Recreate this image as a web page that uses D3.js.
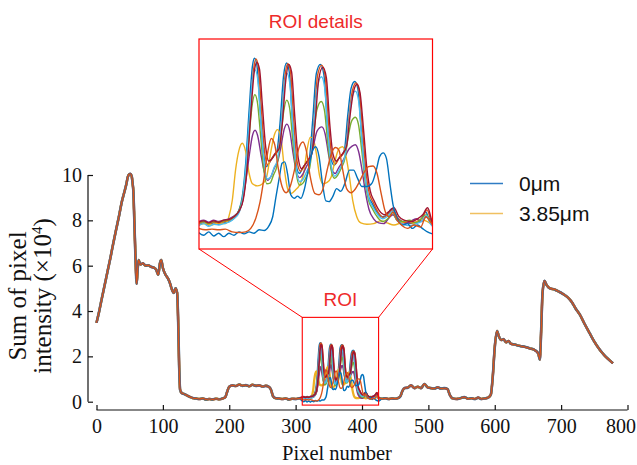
<!DOCTYPE html>
<html>
<head>
<meta charset="utf-8">
<script src="https://cdn.jsdelivr.net/npm/d3@7"></script>
<style>
  body { margin: 0; background: #fff; }
  .tick-label { font-family: "Liberation Serif", "Times New Roman", serif; font-size: 20px; fill: #111; }
  .axis-title { font-family: "Liberation Serif", "Times New Roman", serif; fill: #111; }
  .legend-text { font-family: "Liberation Sans", Arial, sans-serif; font-size: 21px; fill: #111; }
  .roi-text { font-family: "Liberation Sans", Arial, sans-serif; fill: #ee2a2a; }
</style>
</head>
<body>
<script>
// ---- data ----
const xTicks = [0, 100, 200, 300, 400, 500, 600, 700, 800];
const yTicks = [0, 2, 4, 6, 8, 10];
const legendLabels = ['0μm', '3.85μm'];
const legendColors = ['#2f7cc4', '#f0c060'];
const seriesColors = ['#0072BD', '#D95319', '#EDB120', '#7E2F8E', '#77AC30', '#4DBEEE', '#A2142F', '#0072BD', '#D95319'];
const roiX = [310, 425];
const roiY = [-0.15, 3.72];
const insetY = [-0.2, 2.86];

// profile shared by all measurements outside the ROI (pixel, intensity x1e4)
const outerLeft = [[0,3.48],[4,3.98],[8,4.55],[12,5.1],[17,5.8],[21,6.35],[25,6.95],[30,7.65],[34,8.2],[38,8.8],[42,9.25],[45,9.6],[47,9.9],[49,10.02],[51,10.05],[53,9.95],[54.5,9.6],[55.5,9.3],[57,8.0],[59,6.1],[60.5,5.2],[62,5.85],[63.5,6.25],[66,6.05],[70,6.1],[74,6.0],[78,6.02],[82,5.95],[86,5.92],[90,5.82],[93,5.6],[95.5,6.1],[97.5,6.25],[100,5.9],[104,5.6],[108,5.42],[111,5.2],[113,5.0],[116.5,4.8],[119,5.0],[121.5,4.8],[123,3.6],[124.5,1.6],[126,0.52],[128.5,0.38],[132,0.34],[136,0.28],[140,0.22],[145,0.16],[150,0.14],[155,0.12],[160,0.14],[165,0.1],[170,0.12],[175,0.1],[180,0.13],[185,0.11],[190,0.14],[194,0.2],[197,0.45],[200,0.66],[205,0.72],[210,0.69],[215,0.76],[220,0.7],[225,0.73],[230,0.68],[235,0.75],[240,0.7],[245,0.72],[250,0.67],[255,0.7],[260,0.65],[263,0.52],[266,0.24],[270,0.15],[275,0.14],[280,0.12],[285,0.14],[290,0.1],[295,0.13],[300,0.12],[305,0.15]];
const outerRight = [[430,0.13],[435,0.15],[440,0.12],[445,0.14],[450,0.13],[455,0.17],[458,0.25],[461,0.48],[464,0.6],[469,0.62],[474,0.72],[479,0.6],[484,0.66],[489,0.6],[494,0.78],[499,0.63],[504,0.6],[509,0.58],[514,0.63],[519,0.58],[524,0.6],[529,0.55],[532,0.32],[536,0.15],[542,0.12],[548,0.15],[554,0.2],[560,0.13],[565,0.15],[570,0.12],[575,0.18],[580,0.12],[585,0.14],[590,0.18],[594,0.3],[597,1.1],[600,2.4],[603.5,3.12],[606,2.9],[610,2.72],[613,2.76],[617,2.62],[621,2.68],[624,2.56],[630,2.52],[638,2.46],[645,2.42],[653,2.35],[660,2.28],[665.5,2.13],[668,1.86],[670,3.2],[672,4.8],[675,5.33],[678,5.15],[683,5.0],[690,4.95],[697,4.85],[703,4.75],[710,4.6],[716,4.4],[722,4.1],[728,3.85],[735,3.45],[743,3.02],[750,2.65],[758,2.3],[765,2.05],[771,1.88],[778,1.7]];

// per-measurement profiles inside the ROI
const roiS1 = [[309.8,0.15],[312.3,0.18],[314.8,0.15],[317.2,0.18],[319.7,0.16],[322.2,0.18],[324.7,0.2],[327.2,0.25],[329.7,0.37],[331.3,0.56],[333.0,1.05],[334.7,1.83],[336.3,2.46],[337.3,2.58],[338.5,2.48],[340.0,1.88],[341.6,1.24],[343.3,1.0],[344.9,1.07],[346.6,1.15],[348.2,1.2],[349.9,1.63],[351.6,2.31],[353.1,2.51],[354.4,2.39],[356.0,1.68],[357.7,1.05],[359.4,0.9],[361.0,0.98],[362.7,1.05],[364.3,1.12],[366.0,1.68],[367.8,2.36],[369.8,2.49],[371.5,2.34],[373.3,1.58],[374.9,1.12],[376.6,1.02],[378.3,1.1],[379.9,1.15],[381.6,1.24],[383.2,1.73],[384.9,2.14],[386.7,2.24],[388.2,2.14],[389.9,1.54],[391.5,0.95],[393.2,0.59],[395.2,0.47],[397.7,0.34],[400.2,0.27],[402.6,0.3],[405.1,0.39],[407.3,0.27],[410.1,0.2],[413.4,0.17],[416.7,0.18],[419.2,0.22],[421.7,0.34],[423.4,0.22],[425,0.15]];
const roiS2 = [[309.8,0.17],[312.5,0.2],[315,0.16],[317.5,0.19],[320,0.17],[322.5,0.2],[325,0.21],[327.5,0.26],[330,0.36],[331.8,0.55],[333.5,1.0],[335.2,1.78],[336.9,2.42],[338.0,2.57],[339.2,2.46],[340.6,1.9],[342.2,1.25],[343.8,1.03],[345.5,1.1],[347.2,1.18],[348.8,1.23],[350.5,1.6],[352.2,2.28],[353.7,2.5],[355.0,2.4],[356.6,1.7],[358.3,1.08],[360,0.93],[361.6,1.0],[363.3,1.08],[364.9,1.15],[366.6,1.65],[368.4,2.33],[370.4,2.48],[372.1,2.33],[373.9,1.6],[375.5,1.14],[377.2,1.04],[378.9,1.12],[380.5,1.17],[382.2,1.26],[383.8,1.7],[385.5,2.1],[387.3,2.22],[388.8,2.12],[390.5,1.56],[392.1,0.97],[393.8,0.62],[395.8,0.48],[398.3,0.33],[400.8,0.26],[403.2,0.31],[405.7,0.37],[407.9,0.25],[410.7,0.19],[414,0.18],[417.3,0.2],[419.8,0.24],[422.3,0.37],[424,0.24],[425,0.16]];
const roiS3 = [[309.8,0.15],[313.1,0.17],[316.4,0.15],[319.7,0.18],[323.0,0.17],[324.7,0.27],[326.4,0.51],[328.0,0.95],[329.7,1.24],[331.3,1.34],[333.0,1.22],[334.7,0.9],[336.3,0.75],[338.8,0.72],[341.3,0.75],[343.3,0.85],[345.4,1.22],[347.1,1.46],[348.7,1.54],[350.4,1.41],[352.1,0.95],[353.7,0.67],[355.4,0.61],[357.5,0.66],[359.5,0.73],[361.5,0.9],[363.2,1.24],[364.8,1.43],[366.2,1.41],[367.8,1.19],[369.5,0.85],[371.1,0.75],[373.1,0.77],[375.1,0.85],[377.1,1.1],[379.1,1.27],[380.8,1.29],[382.4,1.15],[384.1,0.85],[385.7,0.51],[387.7,0.27],[389.7,0.18],[392.7,0.16],[396.0,0.17],[399.3,0.21],[402.6,0.18],[406.0,0.15],[409.3,0.18],[412.6,0.21],[415.9,0.17],[419.2,0.23],[422.5,0.2],[425.0,0.15]];
const roiS4 = [[309.8,0.2],[312.3,0.22],[314.8,0.19],[317.2,0.22],[319.7,0.2],[322.2,0.22],[324.7,0.24],[327.2,0.28],[329.7,0.36],[331.3,0.48],[333.0,0.78],[334.7,1.15],[336.3,1.45],[337.6,1.53],[338.9,1.45],[340.5,1.18],[342.2,0.92],[343.8,0.8],[345.5,0.86],[347.1,0.98],[348.8,1.08],[350.4,1.3],[352.0,1.55],[353.3,1.62],[354.7,1.52],[356.3,1.2],[358.0,0.92],[359.6,0.84],[361.3,0.9],[362.9,1.0],[364.6,1.1],[366.3,1.3],[368.2,1.52],[370.5,1.58],[372.1,1.48],[373.8,1.18],[375.4,0.95],[377.1,0.9],[378.7,0.98],[380.4,1.06],[382.0,1.15],[383.7,1.25],[385.4,1.3],[387.0,1.32],[388.6,1.22],[390.3,0.95],[392.0,0.62],[393.7,0.38],[396,0.24],[398.5,0.18],[401,0.17],[403.5,0.25],[405.5,0.3],[408,0.2],[411,0.16],[414,0.2],[417,0.24],[419.5,0.2],[422,0.27],[424,0.22],[425,0.16]];
const roiS5 = [[309.8,0.18],[312.3,0.2],[314.8,0.17],[317.2,0.2],[319.7,0.19],[322.2,0.21],[324.7,0.22],[327.2,0.27],[329.7,0.36],[331.3,0.52],[333.0,0.9],[334.7,1.45],[336.3,1.92],[337.5,2.05],[338.7,1.95],[340.2,1.5],[341.8,0.98],[343.4,0.75],[345.0,0.76],[346.7,0.88],[348.3,1.0],[350.0,1.35],[351.7,1.8],[353.2,1.97],[354.6,1.86],[356.2,1.38],[357.9,0.9],[359.5,0.73],[361.2,0.76],[362.8,0.85],[364.5,0.98],[366.1,1.35],[368.0,1.82],[370.2,1.95],[371.8,1.82],[373.5,1.32],[375.1,0.95],[376.8,0.83],[378.4,0.88],[380.1,0.98],[381.7,1.1],[383.4,1.42],[385.1,1.66],[387.0,1.72],[388.5,1.62],[390.1,1.25],[391.8,0.8],[393.4,0.52],[395.5,0.38],[398,0.26],[400.5,0.2],[403,0.24],[405.3,0.33],[407.5,0.22],[410.3,0.2],[413.6,0.22],[416.9,0.18],[419.4,0.24],[421.9,0.3],[423.6,0.22],[425,0.17]];
const roiS6 = [[309.8,0.14],[312.3,0.17],[314.8,0.13],[317.2,0.16],[319.7,0.15],[322.2,0.17],[324.7,0.19],[327.2,0.24],[329.7,0.33],[331.3,0.5],[333.0,0.95],[334.7,1.65],[336.3,2.25],[337.6,2.41],[338.9,2.28],[340.4,1.7],[342.0,1.08],[343.6,0.82],[345.3,0.85],[346.9,0.98],[348.6,1.1],[350.2,1.5],[351.9,2.15],[353.3,2.36],[354.7,2.22],[356.3,1.55],[358.0,0.95],[359.6,0.78],[361.3,0.82],[362.9,0.92],[364.6,1.05],[366.3,1.5],[368.1,2.12],[370.3,2.31],[371.9,2.15],[373.6,1.45],[375.2,1.0],[376.9,0.86],[378.5,0.92],[380.2,1.02],[381.8,1.15],[383.5,1.55],[385.2,1.98],[387.0,2.1],[388.5,1.98],[390.2,1.4],[391.8,0.85],[393.5,0.55],[395.5,0.42],[398,0.3],[400.5,0.24],[403,0.28],[405.3,0.35],[407.6,0.22],[410.4,0.16],[413.7,0.14],[417,0.17],[419.5,0.2],[422,0.29],[423.7,0.18],[425,0.13]];
const roiS7 = [[309.8,0.19],[312.3,0.21],[314.8,0.18],[317.2,0.21],[319.7,0.19],[322.2,0.22],[324.7,0.23],[327.2,0.27],[329.7,0.35],[331.8,0.52],[333.6,0.95],[335.4,1.72],[337.2,2.38],[338.5,2.52],[339.8,2.42],[341.2,1.9],[342.8,1.3],[344.4,1.08],[346.1,1.12],[347.7,1.2],[349.4,1.26],[351.0,1.62],[352.7,2.25],[354.2,2.49],[355.6,2.38],[357.2,1.72],[358.9,1.12],[360.5,0.97],[362.2,1.03],[363.8,1.1],[365.5,1.18],[367.2,1.65],[369.0,2.28],[371.0,2.45],[372.7,2.3],[374.4,1.62],[376.0,1.18],[377.7,1.08],[379.3,1.14],[381.0,1.2],[382.7,1.3],[384.3,1.72],[386.0,2.08],[387.8,2.2],[389.3,2.08],[391.0,1.55],[392.6,1.0],[394.3,0.65],[396.3,0.5],[398.8,0.36],[401.3,0.3],[403.7,0.35],[406,0.4],[408.3,0.28],[411,0.22],[414.3,0.2],[417.6,0.24],[420.2,0.3],[422.6,0.4],[424.2,0.26],[425,0.17]];
const roiS8 = [[309.8,0.04],[312.3,0.0],[314.8,0.05],[317.2,-0.01],[319.7,0.03],[322.2,-0.02],[324.7,0.03],[327.2,0.0],[329.7,0.05],[332.2,0.02],[334.7,0.05],[337.1,0.03],[339.6,0.08],[342.1,0.07],[344.3,0.13],[346.3,0.27],[347.9,0.56],[349.6,0.85],[350.9,1.05],[352.2,1.07],[353.6,0.9],[355.2,0.59],[356.9,0.54],[358.5,0.57],[360.2,0.54],[361.8,0.66],[363.8,0.95],[365.8,1.22],[367.5,1.29],[369.1,1.15],[370.8,0.76],[372.5,0.5],[374.1,0.49],[375.8,0.56],[377.8,0.68],[379.8,0.64],[381.9,0.76],[384.1,0.95],[386.1,0.95],[388.1,0.83],[390.2,0.71],[392.7,0.71],[395.2,0.76],[397.3,0.95],[399.0,1.15],[400.7,1.2],[402.3,1.12],[404.0,0.76],[405.6,0.44],[407.6,0.25],[410.1,0.15],[412.6,0.17],[415.1,0.1],[417.6,0.15],[420.0,0.1],[422.5,0.05],[425.0,0.02]];
const roiS9 = [[309.8,0.1],[313.1,0.08],[316.4,0.09],[319.7,0.08],[323.0,0.09],[326.4,0.05],[329.7,0.04],[333.0,0.05],[335.5,0.1],[338.0,0.25],[340.1,0.49],[342.1,0.85],[343.9,1.22],[345.6,1.41],[347.3,1.32],[348.9,1.0],[350.9,0.71],[352.9,0.62],[354.9,0.71],[357.0,0.95],[359.2,1.27],[361.2,1.36],[362.8,1.24],[364.8,0.85],[367.0,0.61],[369.1,0.59],[371.1,0.68],[373.1,0.95],[375.3,1.2],[377.3,1.28],[378.9,1.24],[380.8,0.95],[382.7,0.68],[384.9,0.62],[386.9,0.67],[389.0,0.78],[391.0,0.9],[393.5,1.0],[395.7,1.01],[397.7,0.9],[399.7,0.61],[401.8,0.34],[403.8,0.27],[405.5,0.34],[407.6,0.22],[410.1,0.14],[412.6,0.1],[415.9,0.15],[419.2,0.12],[421.7,0.27],[423.9,0.2],[425.0,0.15]];

const roiSeries = [roiS1, roiS2, roiS3, roiS4, roiS5, roiS6, roiS7, roiS8, roiS9];

// ---- drawing ----
const W = 637, H = 465;
const svg = d3.select('body').append('svg').attr('width', W).attr('height', H);

const x = d3.scaleLinear().domain([0, 800]).range([96.5, 627.5]);
const y = d3.scaleLinear().domain([0, 10]).range([401.7, 175]);
const xAxisY = 410;
const yAxisX = 88;

// inset scales
const ix = d3.scaleLinear().domain(roiX).range([199, 432.5]);
const iy = d3.scaleLinear().domain(insetY).range([249, 39]);

const series = roiSeries.map((roi, i) => ({
    color: seriesColors[i],
    order: i,
    full: outerLeft.concat(roi, outerRight),
    roi: roi
}));

const mainLine = d3.line().x(d => x(d[0])).y(d => y(d[1])).curve(d3.curveMonotoneX);
const insetLine = d3.line().x(d => ix(d[0])).y(d => iy(d[1])).curve(d3.curveMonotoneX);

// main curves: earlier curves a bit wider so the overlapping band shows its colours
svg.append('g').selectAll('path').data(series).enter()
    .append('path')
    .attr('d', s => mainLine(s.full))
    .attr('fill', 'none')
    .attr('stroke', s => s.color)
    .attr('stroke-width', s => 2.6 - s.order * 0.16);

// x axis (offset below the plot)
const xAxis = d3.axisBottom(x).tickValues(xTicks).tickSize(-5).tickPadding(10).tickFormat(d3.format('d'));
const gx = svg.append('g').attr('transform', `translate(0,${xAxisY})`).call(xAxis);
gx.select('.domain').attr('d', `M${x(0)},0H${x(800)}`).attr('stroke', '#111').attr('stroke-width', 1.2);
gx.selectAll('.tick line').attr('stroke', '#111').attr('stroke-width', 1.2);
gx.selectAll('.tick text').attr('class', 'tick-label').attr('dy', '0.71em').attr('y', 9)
    .attr('dx', d => d === 800 ? -7 : 0);

// y axis (offset left of the plot)
const yAxis = d3.axisLeft(y).tickValues(yTicks).tickSize(-5).tickPadding(8);
const gy = svg.append('g').attr('transform', `translate(${yAxisX},0)`).call(yAxis);
gy.select('.domain').attr('d', `M0,${y(0)}V${y(10)}`).attr('stroke', '#111').attr('stroke-width', 1.2);
gy.selectAll('.tick line').attr('stroke', '#111').attr('stroke-width', 1.2);
gy.selectAll('.tick text').attr('class', 'tick-label').attr('x', -6);

// axis titles
svg.append('text').attr('class', 'axis-title').attr('x', 337).attr('y', 460)
    .attr('text-anchor', 'middle').style('font-size', '20.5px').text('Pixel number');

const yTitle = svg.append('text').attr('class', 'axis-title')
    .attr('transform', 'translate(0,296) rotate(-90)')
    .attr('text-anchor', 'middle').style('font-size', '25px');
yTitle.append('tspan').attr('x', 0).attr('y', 26).text('Sum of pixel');
const t2 = yTitle.append('tspan').attr('x', 0).attr('y', 51).text('intensity (×10');
t2.append('tspan').attr('dy', -9).style('font-size', '15px').text('4');
yTitle.append('tspan').attr('dy', 9).text(')');

// ROI box and connector lines
const rx0 = x(roiX[0]), rx1 = x(roiX[1]), ry0 = y(roiY[1]), ry1 = y(roiY[0]);
svg.append('rect').attr('x', rx0).attr('y', ry0).attr('width', rx1 - rx0).attr('height', ry1 - ry0)
    .attr('fill', 'none').attr('stroke', '#ff0000').attr('stroke-width', 1.1);
svg.append('line').attr('x1', rx0).attr('y1', ry0).attr('x2', ix.range()[0]).attr('y2', iy.range()[0])
    .attr('stroke', '#ff0000').attr('stroke-width', 1);
svg.append('line').attr('x1', rx1).attr('y1', ry0).attr('x2', ix.range()[1]).attr('y2', iy.range()[0])
    .attr('stroke', '#ff0000').attr('stroke-width', 1);
svg.append('text').attr('class', 'roi-text').attr('x', (rx0 + rx1) / 2).attr('y', ry0 - 11)
    .attr('text-anchor', 'middle').style('font-size', '19px').text('ROI');

// inset
svg.append('defs').append('clipPath').attr('id', 'insetClip')
    .append('rect').attr('x', ix.range()[0]).attr('y', iy.range()[1])
    .attr('width', ix.range()[1] - ix.range()[0]).attr('height', iy.range()[0] - iy.range()[1]);
svg.append('rect').attr('x', ix.range()[0]).attr('y', iy.range()[1])
    .attr('width', ix.range()[1] - ix.range()[0]).attr('height', iy.range()[0] - iy.range()[1])
    .attr('fill', '#fff');
svg.append('g').attr('clip-path', 'url(#insetClip)').selectAll('path').data(series).enter()
    .append('path')
    .attr('d', s => insetLine(s.roi))
    .attr('fill', 'none')
    .attr('stroke', s => s.color)
    .attr('stroke-width', 1.4);
svg.append('rect').attr('x', ix.range()[0]).attr('y', iy.range()[1])
    .attr('width', ix.range()[1] - ix.range()[0]).attr('height', iy.range()[0] - iy.range()[1])
    .attr('fill', 'none').attr('stroke', '#ff0000').attr('stroke-width', 1.2);
svg.append('text').attr('class', 'roi-text').attr('x', (ix.range()[0] + ix.range()[1]) / 2).attr('y', 28)
    .attr('text-anchor', 'middle').style('font-size', '19px').text('ROI details');

// legend
const legendItems = legendLabels.map((label, i) => ({ label: label, color: legendColors[i], row: i }));
const legend = svg.append('g').attr('class', 'legend').selectAll('g.item').data(legendItems).enter()
    .append('g').attr('class', 'item').attr('transform', d => `translate(470,${183 + d.row * 30})`);
legend.append('line').attr('x1', 0).attr('x2', 33).attr('y1', 0.5).attr('y2', 0.5)
    .attr('stroke', d => d.color).attr('stroke-width', 1.5);
legend.append('text').attr('class', 'legend-text').attr('x', 49).attr('dy', '0.36em').text(d => d.label);
</script>
</body>
</html>
